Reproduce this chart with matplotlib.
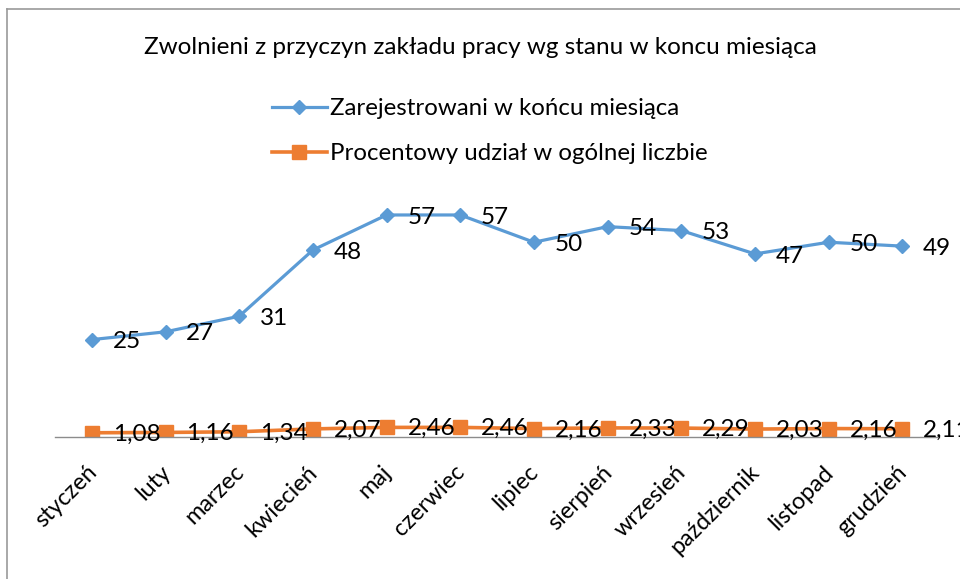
import matplotlib.pyplot as plt
from matplotlib.lines import Line2D
import matplotlib.transforms as mtransforms

plt.rcParams['font.family'] = ['Lato', 'DejaVu Sans']

months = ["styczeń", "luty", "marzec", "kwiecień", "maj", "czerwiec",
          "lipiec", "sierpień", "wrzesień", "październik", "listopad",
          "grudzień"]
registered = [25, 27, 31, 48, 57, 57, 50, 54, 53, 47, 50, 49]
share_pct = [1.08, 1.16, 1.34, 2.07, 2.46, 2.46, 2.16, 2.33, 2.29, 2.03,
             2.16, 2.11]

title = "Zwolnieni z przyczyn zakładu pracy wg stanu w koncu miesiąca"
label_registered = "Zarejestrowani w końcu miesiąca"
label_share = "Procentowy udział w ogólnej liczbie"

BLUE = "#5B9BD5"
ORANGE = "#ED7D31"
FS = 17.5
FS_LEG = 17.3
FS_LBL = 17.5
FS_TICK = 16.8

fig = plt.figure(figsize=(9.6, 5.79), dpi=100)
ax = fig.add_axes([0.0573, 0.2453, 0.921, 0.4036])

x = list(range(len(months)))
ax.plot(x, registered, color=BLUE, lw=2.3, marker="D", markersize=7,
        label=label_registered)
ax.plot(x, share_pct, color=ORANGE, lw=2.6, marker="s", markersize=10,
        label=label_share)

for xi, v in zip(x, registered):
    ax.annotate(f"{v}", (xi, v), xytext=(15, -1.5),
                textcoords="offset points", ha="left", va="center",
                fontsize=FS_LBL)
for xi, v in zip(x, share_pct):
    ax.annotate(f"{v:.2f}".replace(".", ","), (xi, v), xytext=(15, -1),
                textcoords="offset points", ha="left", va="center",
                fontsize=FS_LBL)

ax.set_xlim(-0.5, len(months) - 0.5)
ax.set_ylim(0, 60)
for side in ("top", "right", "left"):
    ax.spines[side].set_visible(False)
ax.spines["bottom"].set_color("#8c8c8c")
ax.spines["bottom"].set_linewidth(1.0)
ax.set_yticks([])
ax.set_xticks(x)
ax.set_xticklabels(months, rotation=45, ha="right", va="center",
                   rotation_mode="anchor", fontsize=FS_TICK)
ax.tick_params(axis="x", length=0, pad=23)
shift = mtransforms.ScaledTranslation(1 / 72, 0, fig.dpi_scale_trans)
for lbl in ax.get_xticklabels():
    lbl.set_transform(lbl.get_transform() + shift)

fig.text(0.5, 0.918, title, ha="center", va="center", fontsize=FS)

handles = [
    Line2D([], [], color=BLUE, lw=2.3, marker="D", markersize=7),
    Line2D([], [], color=ORANGE, lw=2.6, marker="s", markersize=10),
]
fig.legend(handles, [label_registered, label_share], loc="center",
           bbox_to_anchor=(0.51, 0.773), frameon=False, fontsize=FS_LEG,
           handlelength=2.3, handletextpad=0.12, labelspacing=1.0)

# partial chart border (top and left visible)
fig.add_artist(Line2D([7 / 960, 1.0], [1 - 9 / 579, 1 - 9 / 579],
                      transform=fig.transFigure, color="#999999", lw=1.2))
fig.add_artist(Line2D([7 / 960, 7 / 960], [0, 1 - 9 / 579],
                      transform=fig.transFigure, color="#999999", lw=1.2))

fig.savefig("out.png", dpi=100)
